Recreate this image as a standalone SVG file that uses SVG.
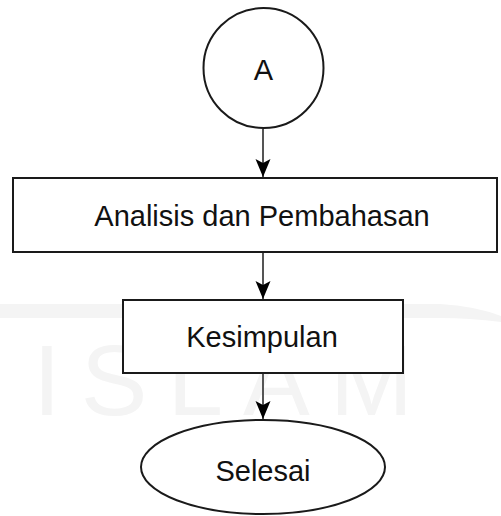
<svg xmlns="http://www.w3.org/2000/svg" width="501" height="516" viewBox="0 0 501 516">
<style>
.shape{fill:#fff;stroke:#1a1a1a;stroke-width:2}
.lbl{font-family:"Liberation Sans",Arial,sans-serif;font-size:29px;fill:#111;text-anchor:middle;dominant-baseline:central}
.edge{stroke:#555;stroke-width:2;fill:none}
.wm{font-family:"Liberation Sans",Arial,sans-serif;font-size:100px;fill:#f4f4f4}
</style>
<defs>
<marker id="ah" viewBox="0 0 18 18" refX="18" refY="9" markerWidth="18" markerHeight="18" markerUnits="userSpaceOnUse" orient="auto">
<path d="M0,1.5 L18,9 L0,16.5 L4,9 Z" fill="#000"/>
</marker>
</defs>
<rect width="501" height="516" fill="#fff"/>
<g id="watermark">
<path d="M0,304 L440,304 Q475,306 501,316 L501,322 Q470,318 440,318 L0,318 Z" fill="#f4f4f4"/>
<text class="wm" x="33" y="415" letter-spacing="20">ISLAM</text>
</g>
<g id="connectors">
<line class="edge" x1="263" y1="129" x2="263" y2="177" marker-end="url(#ah)"/>
<line class="edge" x1="263" y1="253" x2="263" y2="299" marker-end="url(#ah)"/>
<line class="edge" x1="263" y1="374" x2="263" y2="419" marker-end="url(#ah)"/>
</g>
<g id="nodeA">
<circle class="shape" cx="263.5" cy="68" r="60"/>
<text class="lbl" x="263.5" y="70" font-size="27">A</text>
</g>
<g id="analisis">
<rect class="shape" x="13" y="178" width="484" height="74"/>
<text class="lbl" x="262" y="216">Analisis dan Pembahasan</text>
</g>
<g id="kesimpulan">
<rect class="shape" x="123" y="300" width="280" height="73"/>
<text class="lbl" x="262" y="337">Kesimpulan</text>
</g>
<g id="selesai">
<ellipse class="shape" cx="263" cy="467" rx="122" ry="47"/>
<text class="lbl" x="263" y="471">Selesai</text>
</g>
</svg>
